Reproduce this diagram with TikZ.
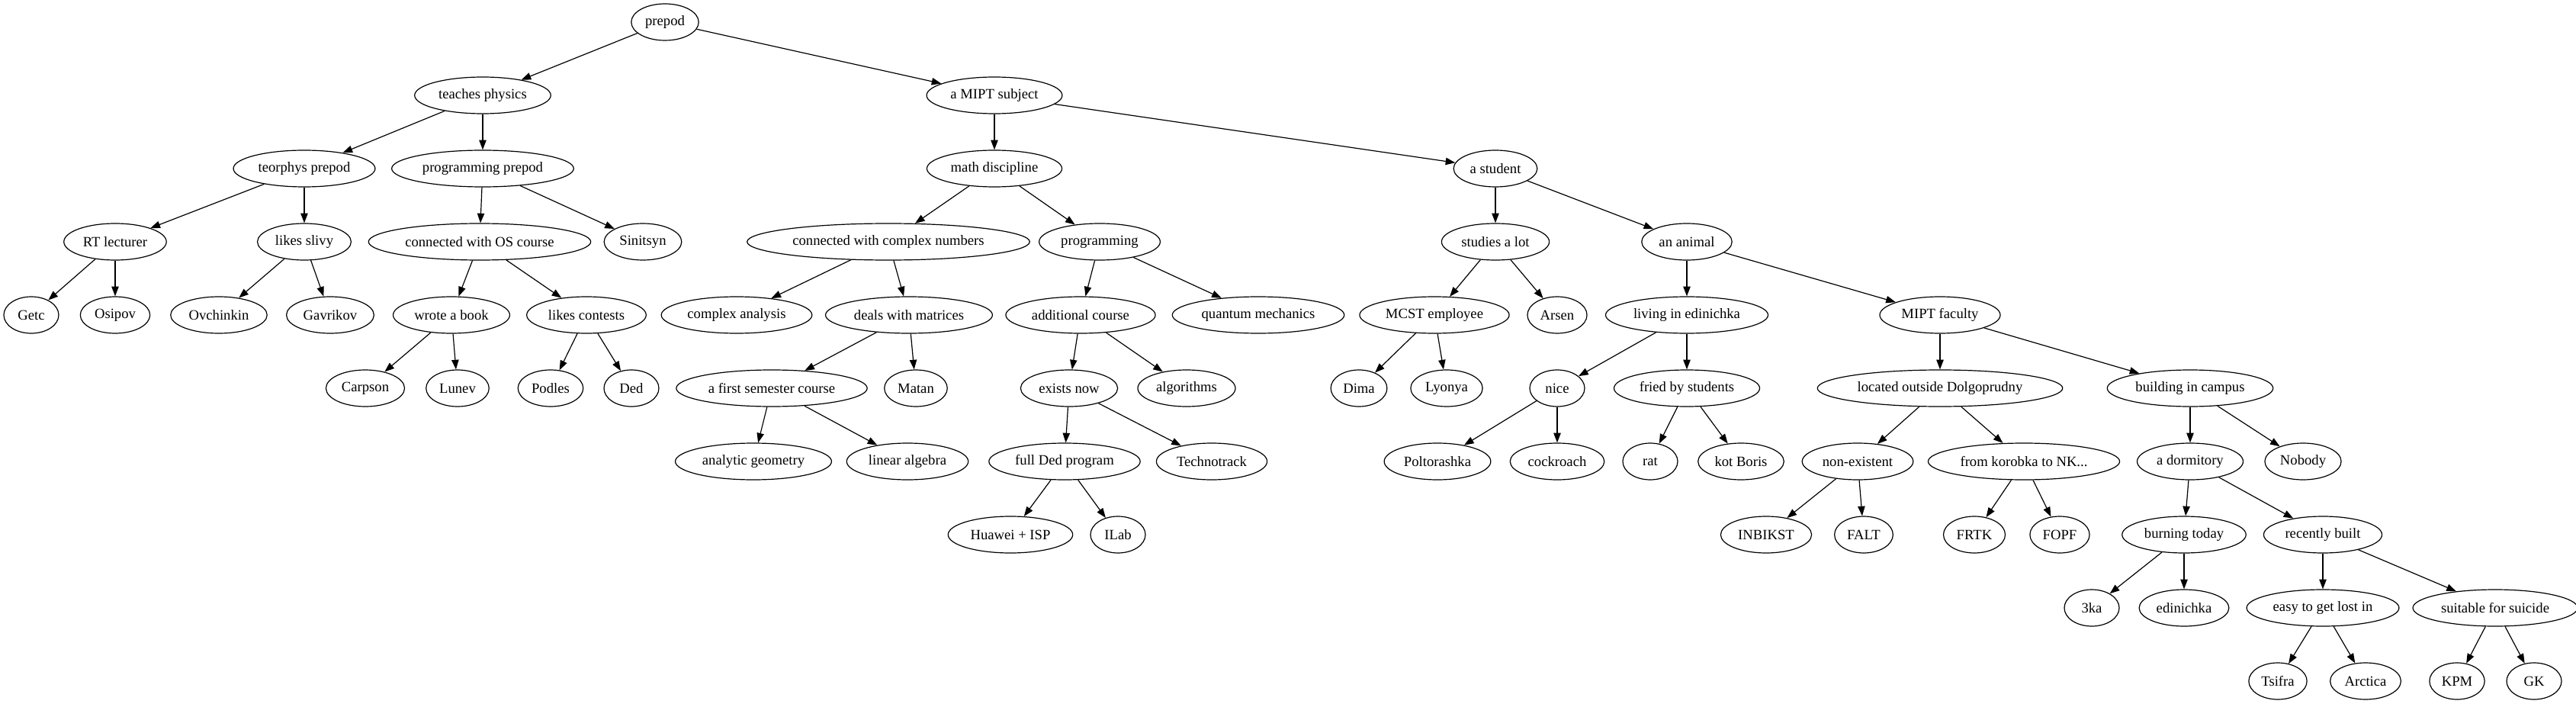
\documentclass[tikz,border=0pt]{standalone}
\usepackage{fontspec}
\setmainfont{Liberation Serif}
\usepackage{tikz}
\usetikzlibrary{shapes.geometric,arrows.meta,positioning}
\tikzstyle{concept} = 
[
	ellipse, 
	minimum width = 54pt, 
	minimum height = 36pt, 
	inner xsep = 4pt, 
	inner ysep = 2pt, 
	text centered, 
	draw=black, 
	line width = 0.9pt,
	font = \fontsize{14pt}{16pt}\selectfont
]
\tikzstyle{arrow} = [line width=0.9pt,-{Triangle[length=9.5pt,width=7pt]}]

\begin{document}
\begin{tikzpicture}[node distance=72pt]
	\useasboundingbox (-654pt,21.75pt) rectangle (1879.5pt,-670.5pt);

	\node 
	(Prepod) 
	[concept] 
	{prepod};
	
	% left branch: physics teachers
	\node
	(TeachesPhysics)
	[
		concept,
		below of = Prepod,
		xshift = -179.25pt
	]
	{
		teaches physics
	};
	
	\node
	(TeorphysPrepod)
	[
		concept,
		below of = TeachesPhysics,
		xshift = -175.5pt
	]
	{
		teorphys prepod
	};
	
	\node
	(ProgrammingPrepod)
	[
		concept,
		below of = TeachesPhysics
	]
	{
		programming prepod
	};
	
	\node
	(RTLecturer)
	[
		concept,
		below of = TeorphysPrepod,
		xshift = -186pt
	]
	{
		RT lecturer
	};
	
	\node
	(LikesSlivy)
	[
		concept,
		below of = TeorphysPrepod
	]
	{
		likes slivy
	};
	
	\node
	(Getc)
	[
		concept,
		below of = RTLecturer,
		xshift = -82.5pt
	]
	{
		Getc
	};
	
	\node
	(Osipov)
	[
		concept,
		below of = RTLecturer
	]
	{
		Osipov
	};
	
	\node
	(Ovchinkin)
	[
		concept,
		below of = LikesSlivy,
		xshift = -84pt
	]
	{
		Ovchinkin
	};
	
	\node
	(Gavrikov)
	[
		concept,
		below of = LikesSlivy,
		xshift = 25.5pt
	]
	{
		Gavrikov
	};
	
	\node
	(OSCourse)
	[
		concept,
		below of = ProgrammingPrepod,
		xshift = -3pt
	]
	{
		connected with OS course
	};
	
	\node
	(Sinitsyn)
	[
		concept,
		below of = ProgrammingPrepod,
		xshift = 157.5pt
	]
	{
		Sinitsyn
	};
	
	\node
	(WroteABook)
	[
		concept,
		below of = OSCourse,
		xshift = -27.75pt
	]
	{
		wrote a book
	};
	
	\node
	(LikesContests)
	[
		concept,
		below of = OSCourse,
		xshift = 105pt
	]
	{
		likes contests
	};
	
	\node
	(Carpson)
	[
		concept,
		below of = WroteABook,
		xshift = -84.75pt
	]
	{
		Carpson
	};
	
	\node
	(Lunev)
	[
		concept,
		below of = WroteABook,
		xshift = 6pt
	]
	{
		Lunev
	};
	
	\node
	(Podles)
	[
		concept,
		below of = LikesContests,
		xshift = -35.25pt
	]
	{
		Podles
	};
	
	\node
	(Ded)
	[
		concept,
		below of = LikesContests,
		xshift = 44.25pt
	]
	{
		Ded
	};
	
	% middle branch: subjects
	\node
	(MIPTSubject)
	[
		concept,
		below of = Prepod,
		xshift = 324pt
	]
	{
		a MIPT subject
	};
	
	\node
	(MathDiscipline)
	[
		concept,
		below of = MIPTSubject
	]
	{
		math discipline
	};
	
	\node
	(ComplexNumbers)
	[
		concept,
		below of = MathDiscipline,
		xshift = -104.25pt
	]
	{
		connected with complex numbers
	};
	
	\node
	(Programming)
	[
		concept,
		below of = MathDiscipline,
		xshift = 103.5pt
	]
	{
		programming
	};
	
	\node
	(ComplexAnalysis)
	[
		concept,
		below of = ComplexNumbers,
		xshift = -149.25pt
	]
	{
		complex analysis
	};
	
	\node
	(Matrices)
	[
		concept,
		below of = ComplexNumbers,
		xshift = 20.25pt
	]
	{
		deals with matrices
	};
	
	\node
	(FirstSemester)
	[
		concept,
		below of = Matrices,
		xshift = -135pt
	]
	{
		a first semester course
	};
	
	\node
	(Matan)
	[
		concept,
		below of = Matrices,
		xshift = 6.75pt
	]
	{
		Matan
	};
	
	\node
	(AnalyticGeometry)
	[
		concept,
		below of = FirstSemester,
		xshift = -18pt
	]
	{
		analytic geometry
	};
	
	\node
	(LinearAlgebra)
	[
		concept,
		below of = FirstSemester,
		xshift = 133.5pt
	]
	{
		linear algebra
	};
	
	\node
	(AdditionalCourse)
	[
		concept,
		below of = Programming,
		xshift = -18.75pt
	]
	{
		additional course
	};
	
	\node
	(QuantumMechanics)
	[
		concept,
		below of = Programming,
		xshift = 156pt
	]
	{
		quantum mechanics
	};
	
	\node
	(ExistsNow)
	[
		concept,
		below of = AdditionalCourse,
		xshift = -11.25pt
	]
	{
		exists now
	};
	
	\node
	(Algorithms)
	[
		concept,
		below of = AdditionalCourse,
		xshift = 104.25pt
	]
	{
		algorithms
	};
	
	\node
	(FullDed)
	[
		concept,
		below of = ExistsNow,
		xshift = -4.5pt
	]
	{
		full Ded program
	};
	
	\node
	(Technotrack)
	[
		concept,
		below of = ExistsNow,
		xshift = 140.25pt
	]
	{
		Technotrack
	};
	
	\node
	(HuaweiISP)
	[
		concept,
		below of = FullDed,
		xshift = -53.25pt
	]
	{
		Huawei + ISP
	};
	
	\node
	(ILab)
	[
		concept,
		below of = FullDed,
		xshift = 52.5pt
	]
	{
		ILab
	};
	
	% right branch: students
	\node
	(Student)
	[
		concept,
		below of = MIPTSubject,
		xshift = 492.75pt
	]
	{
		a student
	};
	
	\node
	(StudiesALot)
	[
		concept,
		below of = Student
	]
	{
		studies a lot
	};
	
	\node
	(Animal)
	[
		concept,
		below of = Student,
		xshift = 188.25pt
	]
	{
		an animal
	};
	
	\node
	(MCST)
	[
		concept,
		below of = StudiesALot,
		xshift = -60pt
	]
	{
		MCST employee
	};
	
	\node
	(Arsen)
	[
		concept,
		below of = StudiesALot,
		xshift = 60.75pt
	]
	{
		Arsen
	};
	
	\node
	(Dima)
	[
		concept,
		below of = MCST,
		xshift = -74.25pt
	]
	{
		Dima
	};
	
	\node
	(Lyonya)
	[
		concept,
		below of = MCST,
		xshift = 12pt
	]
	{
		Lyonya
	};
	
	\node
	(LivingEdinichka)
	[
		concept,
		below of = Animal
	]
	{
		living in edinichka
	};
	
	\node
	(MIPTFaculty)
	[
		concept,
		below of = Animal,
		xshift = 249pt
	]
	{
		MIPT faculty
	};
	
	\node
	(Nice)
	[
		concept,
		below of = LivingEdinichka,
		xshift = -127.5pt
	]
	{
		nice
	};
	
	\node
	(Fried)
	[
		concept,
		below of = LivingEdinichka
	]
	{
		fried by students
	};
	
	\node
	(Poltorashka)
	[
		concept,
		below of = Nice,
		xshift = -117.75pt
	]
	{
		Poltorashka
	};
	
	\node
	(Cockroach)
	[
		concept,
		below of = Nice
	]
	{
		cockroach
	};
	
	\node
	(Rat)
	[
		concept,
		below of = Fried,
		xshift = -36pt
	]
	{
		rat
	};
	
	\node
	(KotBoris)
	[
		concept,
		below of = Fried,
		xshift = 53.25pt
	]
	{
		kot Boris
	};
	
	\node
	(OutsideDolgoprudny)
	[
		concept,
		below of = MIPTFaculty
	]
	{
		located outside Dolgoprudny
	};
	
	\node
	(BuildingInCampus)
	[
		concept,
		below of = MIPTFaculty,
		xshift = 246pt
	]
	{
		building in campus
	};
	
	\node
	(NonExistent)
	[
		concept,
		below of = OutsideDolgoprudny,
		xshift = -81pt
	]
	{
		non-existent
	};
	
	\node
	(Korobka)
	[
		concept,
		below of = OutsideDolgoprudny,
		xshift = 82.5pt
	]
	{
		from korobka to NK...
	};
	
	\node
	(INBIKST)
	[
		concept,
		below of = NonExistent,
		xshift = -90pt
	]
	{
		INBIKST
	};
	
	\node
	(FALT)
	[
		concept,
		below of = NonExistent,
		xshift = 6pt
	]
	{
		FALT
	};
	
	\node
	(FRTK)
	[
		concept,
		below of = Korobka,
		xshift = -48.75pt
	]
	{
		FRTK
	};
	
	\node
	(FOPF)
	[
		concept,
		below of = Korobka,
		xshift = 35.25pt
	]
	{
		FOPF
	};
	
	\node
	(Dormitory)
	[
		concept,
		below of = BuildingInCampus
	]
	{
		a dormitory
	};
	
	\node
	(Nobody)
	[
		concept,
		below of = BuildingInCampus,
		xshift = 111pt
	]
	{
		Nobody
	};
	
	\node
	(BurningToday)
	[
		concept,
		below of = Dormitory,
		xshift = -6pt
	]
	{
		burning today
	};
	
	\node
	(RecentlyBuilt)
	[
		concept,
		below of = Dormitory,
		xshift = 130.5pt
	]
	{
		recently built
	};
	
	\node
	(Tri)
	[
		concept,
		below of = BurningToday,
		xshift = -90.75pt
	]
	{
		3ka
	};
	
	\node
	(Edinichka)
	[
		concept,
		below of = BurningToday
	]
	{
		edinichka
	};
	
	\node
	(EasyLost)
	[
		concept,
		below of = RecentlyBuilt
	]
	{
		easy to get lost in
	};
	
	\node
	(Suicide)
	[
		concept,
		below of = RecentlyBuilt,
		xshift = 169.5pt
	]
	{
		suitable for suicide
	};
	
	\node
	(Tsifra)
	[
		concept,
		below of = EasyLost,
		xshift = -44.25pt
	]
	{
		Tsifra
	};
	
	\node
	(Arctica)
	[
		concept,
		below of = EasyLost,
		xshift = 42pt
	]
	{
		Arctica
	};
	
	\node
	(KPM)
	[
		concept,
		below of = Suicide,
		xshift = -37.5pt
	]
	{
		KPM
	};
	
	\node
	(GK)
	[
		concept,
		below of = Suicide,
		xshift = 38.25pt
	]
	{
		GK
	};
	
	\draw [arrow] (Prepod) -- (TeachesPhysics);
	\draw [arrow] (Prepod) -- (MIPTSubject);
	\draw [arrow] (TeachesPhysics) -- (TeorphysPrepod);
	\draw [arrow] (TeachesPhysics) -- (ProgrammingPrepod);
	\draw [arrow] (TeorphysPrepod) -- (RTLecturer);
	\draw [arrow] (TeorphysPrepod) -- (LikesSlivy);
	\draw [arrow] (RTLecturer) -- (Getc);
	\draw [arrow] (RTLecturer) -- (Osipov);
	\draw [arrow] (LikesSlivy) -- (Ovchinkin);
	\draw [arrow] (LikesSlivy) -- (Gavrikov);
	\draw [arrow] (ProgrammingPrepod) -- (OSCourse);
	\draw [arrow] (ProgrammingPrepod) -- (Sinitsyn);
	\draw [arrow] (OSCourse) -- (WroteABook);
	\draw [arrow] (OSCourse) -- (LikesContests);
	\draw [arrow] (WroteABook) -- (Carpson);
	\draw [arrow] (WroteABook) -- (Lunev);
	\draw [arrow] (LikesContests) -- (Podles);
	\draw [arrow] (LikesContests) -- (Ded);
	\draw [arrow] (MIPTSubject) -- (MathDiscipline);
	\draw [arrow] (MIPTSubject) -- (Student);
	\draw [arrow] (MathDiscipline) -- (ComplexNumbers);
	\draw [arrow] (MathDiscipline) -- (Programming);
	\draw [arrow] (ComplexNumbers) -- (ComplexAnalysis);
	\draw [arrow] (ComplexNumbers) -- (Matrices);
	\draw [arrow] (Matrices) -- (FirstSemester);
	\draw [arrow] (Matrices) -- (Matan);
	\draw [arrow] (FirstSemester) -- (AnalyticGeometry);
	\draw [arrow] (FirstSemester) -- (LinearAlgebra);
	\draw [arrow] (Programming) -- (AdditionalCourse);
	\draw [arrow] (Programming) -- (QuantumMechanics);
	\draw [arrow] (AdditionalCourse) -- (ExistsNow);
	\draw [arrow] (AdditionalCourse) -- (Algorithms);
	\draw [arrow] (ExistsNow) -- (FullDed);
	\draw [arrow] (ExistsNow) -- (Technotrack);
	\draw [arrow] (FullDed) -- (HuaweiISP);
	\draw [arrow] (FullDed) -- (ILab);
	\draw [arrow] (Student) -- (StudiesALot);
	\draw [arrow] (Student) -- (Animal);
	\draw [arrow] (StudiesALot) -- (MCST);
	\draw [arrow] (StudiesALot) -- (Arsen);
	\draw [arrow] (MCST) -- (Dima);
	\draw [arrow] (MCST) -- (Lyonya);
	\draw [arrow] (Animal) -- (LivingEdinichka);
	\draw [arrow] (Animal) -- (MIPTFaculty);
	\draw [arrow] (LivingEdinichka) -- (Nice);
	\draw [arrow] (LivingEdinichka) -- (Fried);
	\draw [arrow] (Nice) -- (Poltorashka);
	\draw [arrow] (Nice) -- (Cockroach);
	\draw [arrow] (Fried) -- (Rat);
	\draw [arrow] (Fried) -- (KotBoris);
	\draw [arrow] (MIPTFaculty) -- (OutsideDolgoprudny);
	\draw [arrow] (MIPTFaculty) -- (BuildingInCampus);
	\draw [arrow] (OutsideDolgoprudny) -- (NonExistent);
	\draw [arrow] (OutsideDolgoprudny) -- (Korobka);
	\draw [arrow] (NonExistent) -- (INBIKST);
	\draw [arrow] (NonExistent) -- (FALT);
	\draw [arrow] (Korobka) -- (FRTK);
	\draw [arrow] (Korobka) -- (FOPF);
	\draw [arrow] (BuildingInCampus) -- (Dormitory);
	\draw [arrow] (BuildingInCampus) -- (Nobody);
	\draw [arrow] (Dormitory) -- (BurningToday);
	\draw [arrow] (Dormitory) -- (RecentlyBuilt);
	\draw [arrow] (BurningToday) -- (Tri);
	\draw [arrow] (BurningToday) -- (Edinichka);
	\draw [arrow] (RecentlyBuilt) -- (EasyLost);
	\draw [arrow] (RecentlyBuilt) -- (Suicide);
	\draw [arrow] (EasyLost) -- (Tsifra);
	\draw [arrow] (EasyLost) -- (Arctica);
	\draw [arrow] (Suicide) -- (KPM);
	\draw [arrow] (Suicide) -- (GK);
	
\end{tikzpicture}
\end{document}
